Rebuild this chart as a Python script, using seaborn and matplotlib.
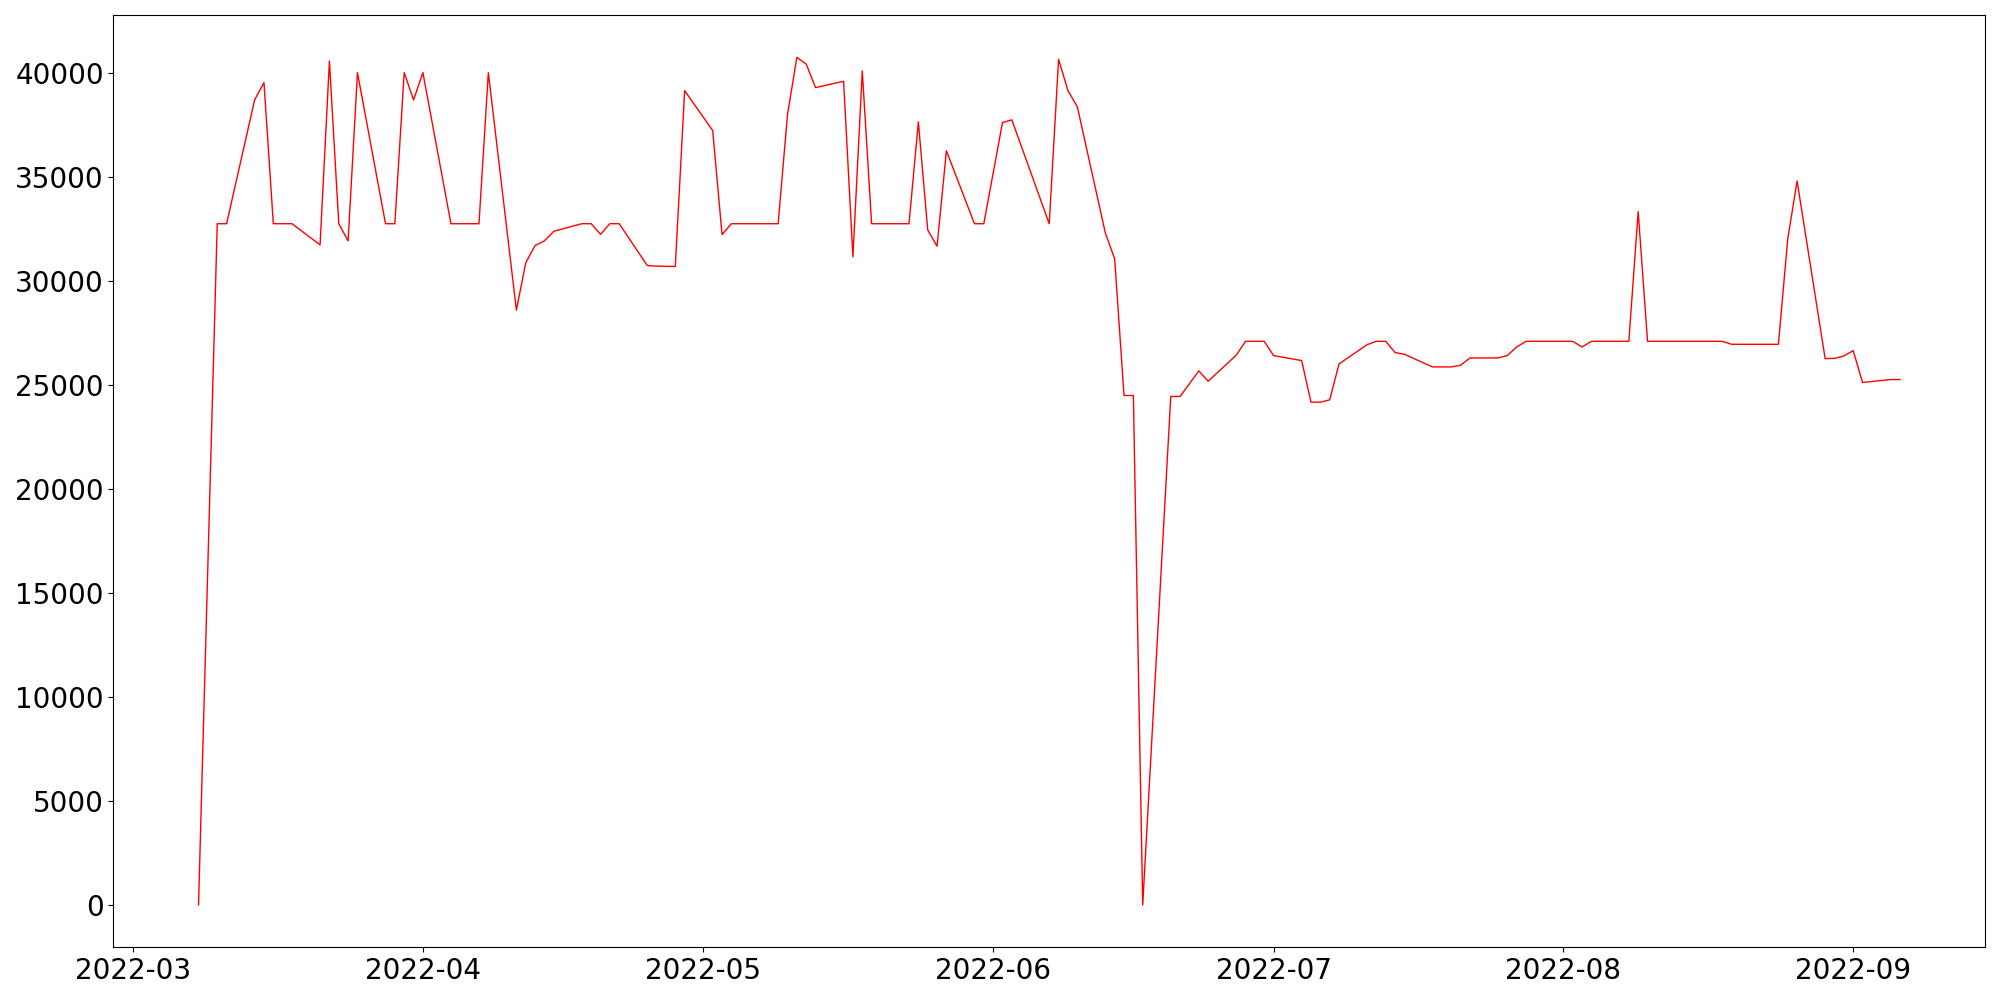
import matplotlib
matplotlib.use("Agg")
import matplotlib.pyplot as plt
import seaborn as sns
import pandas as pd

dates = [
    "2022-03-08", "2022-03-10", "2022-03-11", "2022-03-14", "2022-03-15", "2022-03-16",
    "2022-03-18", "2022-03-21", "2022-03-22", "2022-03-23", "2022-03-24", "2022-03-25",
    "2022-03-28", "2022-03-29", "2022-03-30", "2022-03-31", "2022-04-01", "2022-04-04",
    "2022-04-07", "2022-04-08", "2022-04-11", "2022-04-12", "2022-04-13", "2022-04-14",
    "2022-04-15", "2022-04-18", "2022-04-19", "2022-04-20", "2022-04-21", "2022-04-22",
    "2022-04-25", "2022-04-26", "2022-04-28", "2022-04-29", "2022-05-02", "2022-05-03",
    "2022-05-04", "2022-05-09", "2022-05-10", "2022-05-11", "2022-05-12", "2022-05-13",
    "2022-05-16", "2022-05-17", "2022-05-18", "2022-05-19", "2022-05-23", "2022-05-24",
    "2022-05-25", "2022-05-26", "2022-05-27", "2022-05-30", "2022-05-31", "2022-06-02",
    "2022-06-03", "2022-06-07", "2022-06-08", "2022-06-09", "2022-06-10", "2022-06-13",
    "2022-06-14", "2022-06-15", "2022-06-16", "2022-06-17", "2022-06-20", "2022-06-21",
    "2022-06-23", "2022-06-24", "2022-06-27", "2022-06-28", "2022-06-30", "2022-07-01",
    "2022-07-04", "2022-07-05", "2022-07-06", "2022-07-07", "2022-07-08", "2022-07-11",
    "2022-07-12", "2022-07-13", "2022-07-14", "2022-07-15", "2022-07-18", "2022-07-20",
    "2022-07-21", "2022-07-22", "2022-07-25", "2022-07-26", "2022-07-27", "2022-07-28",
    "2022-08-02", "2022-08-03", "2022-08-04", "2022-08-08", "2022-08-09", "2022-08-10",
    "2022-08-18", "2022-08-19", "2022-08-24", "2022-08-25", "2022-08-26", "2022-08-29",
    "2022-08-30", "2022-08-31", "2022-09-01", "2022-09-02", "2022-09-05", "2022-09-06",
]

values = [
    0, 32768, 32768, 38724, 39555, 32768,
    32768, 31750, 40595, 32768, 31943, 40035,
    32768, 32768, 40035, 38724, 40035, 32768,
    32768, 40035, 28613, 30887, 31718, 31943,
    32405, 32768, 32768, 32260, 32768, 32768,
    30758, 30730, 30710, 39170, 37250, 32246,
    32768, 32768, 38004, 40770, 40451, 39315,
    39620, 31175, 40115, 32768, 32768, 37668,
    32470, 31685, 36276, 32768, 32768, 37635,
    37764, 32768, 40675, 39170, 38403, 32325,
    31080, 24505, 24505, 0, 24458, 24458,
    25688, 25192, 26440, 27111, 27111, 26424,
    26185, 24184, 24184, 24295, 26023, 26950,
    27111, 27111, 26568, 26487, 25880, 25880,
    25960, 26310, 26310, 26424, 26838, 27111,
    27111, 26838, 27111, 27111, 33350, 27111,
    27111, 26967, 26967, 32039, 34822, 26280,
    26290, 26405, 26665, 25130, 25272, 25272,
]

df = pd.DataFrame({"date": pd.to_datetime(dates), "value": values})

fig, ax = plt.subplots(figsize=(20, 10), dpi=100)
sns.lineplot(data=df, x="date", y="value", color="red", linewidth=1, ax=ax)
ax.set_xlabel("")
ax.set_ylabel("")
ax.tick_params(axis="both", labelsize=20)
fig.tight_layout()
fig.savefig("out.png", dpi=100)
